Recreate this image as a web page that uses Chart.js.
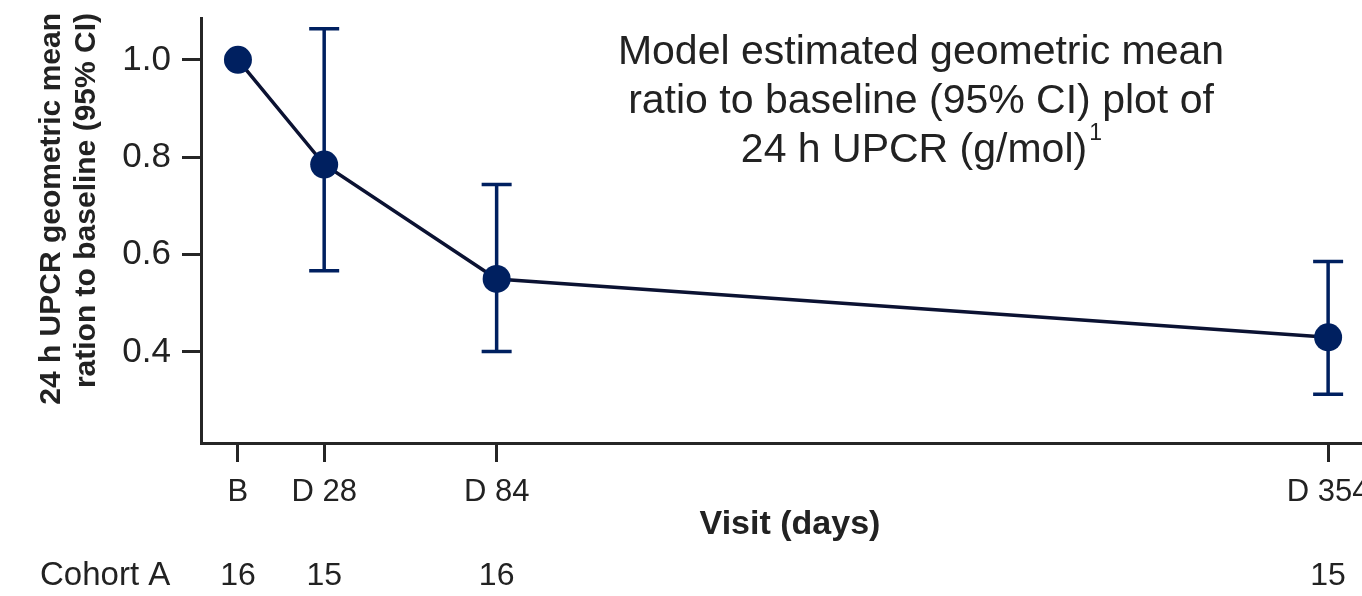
<!DOCTYPE html>
<html>
<head>
<meta charset="utf-8">
<script src="https://cdn.jsdelivr.net/npm/chart.js@4.4.1/dist/chart.umd.min.js"></script>
<style>
  html, body { margin: 0; padding: 0; background: #ffffff; }
  #wrap { width: 1362px; height: 596px; }
</style>
</head>
<body>
<div id="wrap"><canvas id="upcr-chart" width="1362" height="596"></canvas></div>
<script>
// Données
const visitDays = [0, 28, 84, 354];
const visitLabels = ['B', 'D 28', 'D 84', 'D 354'];
const ratioMean = [1.0, 0.785, 0.550, 0.430];
const ratioLower = [null, 0.567, 0.401, 0.313];
const ratioUpper = [null, 1.064, 0.744, 0.586];
const cohortN = [16, 15, 16, 15];
const yTicks = [0.4, 0.6, 0.8, 1.0];

const textColor = '#222222';
const axisColor = '#262626';
const navy = '#002060';
const lineColor = '#0b1232';
const fontFamily = '"Liberation Sans", Arial, Helvetica, sans-serif';

// Barres d'erreur (IC 95 %), dessinées sous les points
const errorBarsPlugin = {
  id: 'errorBars',
  beforeDatasetsDraw(chart) {
    const ctx = chart.ctx;
    const x = chart.scales.x;
    const y = chart.scales.y;
    ctx.save();
    ctx.strokeStyle = navy;
    ctx.lineWidth = 3.5;
    visitDays.forEach((d, i) => {
      if (ratioLower[i] === null) return;
      const px = x.getPixelForValue(d);
      const top = y.getPixelForValue(ratioUpper[i]);
      const bottom = y.getPixelForValue(ratioLower[i]);
      ctx.beginPath();
      ctx.moveTo(px, top);
      ctx.lineTo(px, bottom);
      ctx.moveTo(px - 15, top);
      ctx.lineTo(px + 15, top);
      ctx.moveTo(px - 15, bottom);
      ctx.lineTo(px + 15, bottom);
      ctx.stroke();
    });
    ctx.restore();
  }
};

// Titres, libellés de visites, titre d'axe Y et ligne des effectifs
const annotationsPlugin = {
  id: 'annotations',
  afterDraw(chart) {
    const ctx = chart.ctx;
    const x = chart.scales.x;
    ctx.save();
    ctx.fillStyle = textColor;

    // Titre dans la zone du graphique
    ctx.font = '41px ' + fontFamily;
    ctx.textAlign = 'center';
    ctx.textBaseline = 'middle';
    ctx.fillText('Model estimated geometric mean', 921, 53);
    ctx.fillText('ratio to baseline (95% CI) plot of', 921, 102);
    const line3 = '24 h UPCR (g/mol)';
    const w3 = ctx.measureText(line3).width;
    ctx.fillText(line3, 914, 151);
    ctx.font = '23px ' + fontFamily;
    ctx.textAlign = 'left';
    ctx.fillText('1', 914 + w3 / 2 + 2, 134);

    // Titre de l'axe Y (deux lignes, pivoté)
    ctx.font = 'bold 30px ' + fontFamily;
    ctx.textAlign = 'right';
    ctx.textBaseline = 'middle';
    ctx.save();
    ctx.translate(52, 13);
    ctx.rotate(-Math.PI / 2);
    ctx.fillText('24 h UPCR geometric mean', 0, 0);
    ctx.restore();
    ctx.save();
    ctx.translate(87, 13);
    ctx.rotate(-Math.PI / 2);
    ctx.fillText('ration to baseline (95% CI)', 0, 0);
    ctx.restore();

    // Libellés des visites sous les graduations (coupés au bord comme l'original)
    ctx.font = '31px ' + fontFamily;
    ctx.textAlign = 'center';
    visitDays.forEach((d, i) => {
      ctx.fillText(visitLabels[i], x.getPixelForValue(d), 492);
    });

    // Titre de l'axe X
    ctx.font = 'bold 34px ' + fontFamily;
    ctx.fillText('Visit (days)', 790, 525);

    // Effectifs par visite
    ctx.font = '33px ' + fontFamily;
    ctx.textAlign = 'left';
    ctx.fillText('Cohort A', 40, 576);
    ctx.textAlign = 'center';
    ctx.font = '32px ' + fontFamily;
    visitDays.forEach((d, i) => {
      ctx.fillText(String(cohortN[i]), x.getPixelForValue(d), 576);
    });
    ctx.restore();
  }
};

function initializeUpcrChart(chartId) {
  const canvas = document.getElementById(chartId);
  if (!canvas) return;
  const ctx = canvas.getContext('2d');

  const chart = new Chart(ctx, {
    type: 'line',
    data: {
      datasets: [{
        label: 'Cohort A',
        data: visitDays.map((d, i) => ({ x: d, y: ratioMean[i] })),
        borderColor: lineColor,
        borderWidth: 3.5,
        backgroundColor: navy,
        pointBackgroundColor: navy,
        pointBorderColor: navy,
        pointBorderWidth: 0,
        pointRadius: 14,
        tension: 0,
        fill: false,
        clip: false
      }]
    },
    options: {
      responsive: false,
      animation: false,
      layout: { autoPadding: false, padding: { left: 0, right: 0, top: 0, bottom: 0 } },
      plugins: {
        legend: { display: false },
        tooltip: { enabled: false }
      },
      scales: {
        x: {
          type: 'linear',
          min: -12,
          max: 365,
          afterBuildTicks(scale) {
            scale.ticks = visitDays.map(v => ({ value: v }));
          },
          afterFit(scale) {
            scale.height = 153;
          },
          grid: {
            drawOnChartArea: false,
            drawTicks: true,
            tickLength: 19,
            tickWidth: 3,
            tickColor: axisColor
          },
          border: { display: true, color: axisColor, width: 3 },
          ticks: { display: false }
        },
        y: {
          min: 0.213,
          max: 1.086,
          afterBuildTicks(scale) {
            scale.ticks = yTicks.map(v => ({ value: v }));
          },
          afterFit(scale) {
            scale.width = 201;
          },
          grid: {
            drawOnChartArea: false,
            drawTicks: true,
            tickLength: 19,
            tickWidth: 3,
            tickColor: axisColor
          },
          border: { display: true, color: axisColor, width: 3 },
          ticks: {
            color: textColor,
            font: { family: fontFamily, size: 35, lineHeight: 0.4 },
            padding: 11,
            callback: function(value) {
              return value.toFixed(1);
            }
          }
        }
      }
    },
    plugins: [errorBarsPlugin, annotationsPlugin]
  });

  canvas.chart = chart;
  return chart;
}

initializeUpcrChart('upcr-chart');
</script>
</body>
</html>
